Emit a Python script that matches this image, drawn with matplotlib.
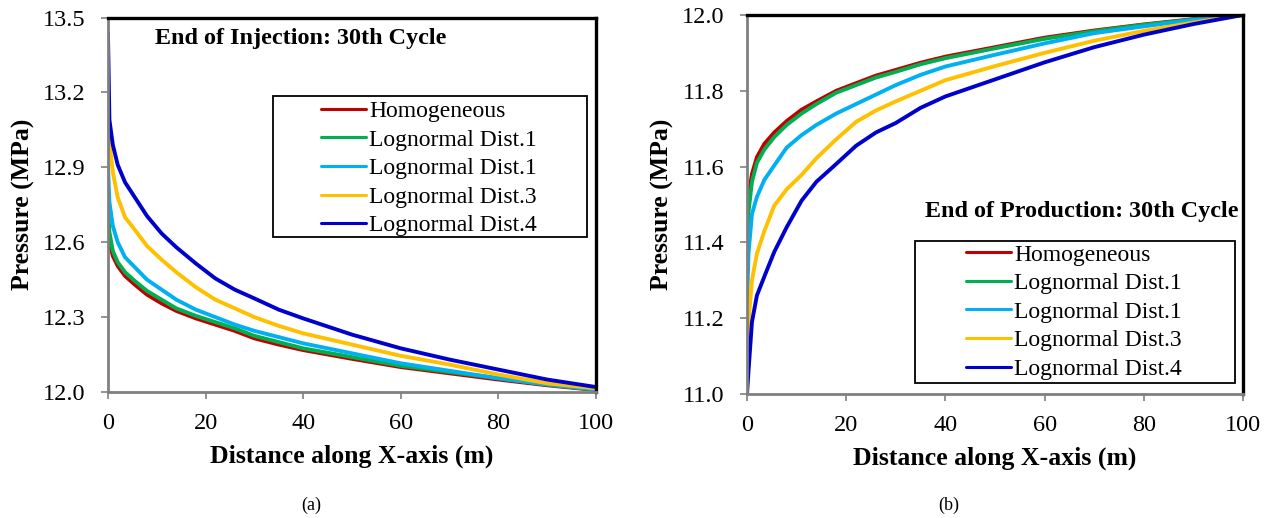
import matplotlib.pyplot as plt
from matplotlib.patches import Rectangle

plt.rcParams['font.family'] = ['Liberation Serif', 'DejaVu Serif']

# distance along x-axis (m), same sampling for both panels
x_dist = [0, 0.3, 1, 2, 3.5, 5.5, 8, 11, 14, 18, 22, 26, 30, 35, 40, 50, 60, 70, 80, 90, 100]

# (a) end of injection, pressure in MPa
inj_homog = [12.69, 12.60, 12.545, 12.505, 12.465, 12.43, 12.39, 12.355, 12.325, 12.295, 12.27,
             12.245, 12.215, 12.19, 12.168, 12.133, 12.10, 12.075, 12.05, 12.027, 12.008]
inj_dist1 = [12.745, 12.64, 12.565, 12.52, 12.48, 12.445, 12.405, 12.37, 12.335, 12.305, 12.28,
             12.255, 12.225, 12.20, 12.175, 12.14, 12.105, 12.08, 12.055, 12.03, 12.01]
inj_dist2 = [12.905, 12.76, 12.665, 12.60, 12.54, 12.50, 12.45, 12.41, 12.37, 12.33, 12.30,
             12.27, 12.245, 12.22, 12.195, 12.155, 12.115, 12.085, 12.055, 12.03, 12.01]
inj_dist3 = [13.12, 13.00, 12.88, 12.78, 12.70, 12.65, 12.585, 12.53, 12.48, 12.42, 12.37,
             12.335, 12.30, 12.265, 12.235, 12.19, 12.145, 12.11, 12.07, 12.035, 12.015]
inj_dist4 = [13.44, 13.09, 12.99, 12.91, 12.84, 12.78, 12.705, 12.635, 12.58, 12.515, 12.455,
             12.41, 12.375, 12.33, 12.295, 12.23, 12.175, 12.13, 12.09, 12.05, 12.02]

# (b) end of production, pressure in MPa
prod_homog = [11.46, 11.52, 11.58, 11.625, 11.66, 11.69, 11.72, 11.75, 11.772, 11.80, 11.82,
              11.84, 11.855, 11.874, 11.89, 11.915, 11.94, 11.959, 11.975, 11.989, 12.0]
prod_dist1 = [11.39, 11.48, 11.56, 11.61, 11.645, 11.678, 11.71, 11.74, 11.765, 11.795, 11.815,
              11.835, 11.85, 11.87, 11.886, 11.912, 11.937, 11.957, 11.974, 11.988, 12.0]
prod_dist2 = [11.23, 11.37, 11.475, 11.52, 11.565, 11.603, 11.65, 11.683, 11.71, 11.74, 11.765,
              11.79, 11.815, 11.842, 11.864, 11.895, 11.925, 11.952, 11.97, 11.987, 12.0]
prod_dist3 = [11.08, 11.19, 11.30, 11.37, 11.43, 11.497, 11.54, 11.578, 11.622, 11.672, 11.718,
              11.748, 11.772, 11.80, 11.828, 11.865, 11.90, 11.932, 11.958, 11.98, 12.0]
prod_dist4 = [11.0, 11.06, 11.19, 11.26, 11.31, 11.375, 11.44, 11.51, 11.56, 11.607, 11.655,
              11.69, 11.715, 11.755, 11.785, 11.83, 11.875, 11.915, 11.948, 11.976, 12.0]

labels = ['Homogeneous', 'Lognormal Dist.1', 'Lognormal Dist.1', 'Lognormal Dist.3', 'Lognormal Dist.4']
colors = ['#C00000', '#00B050', '#00B0F0', '#FFC000', '#0000CC']

inj_ticks = [12.0, 12.3, 12.6, 12.9, 13.2, 13.5]
prod_ticks = [11.0, 11.2, 11.4, 11.6, 11.8, 12.0]
x_ticks = [0, 20, 40, 60, 80, 100]


def draw_panel(ax, series, yticks, title, title_pos, title_ha, leg_rect, leg_center):
    for ys, lab, col in zip(series, labels, colors):
        ax.plot(x_dist, ys, color=col, lw=2.8, label=lab, solid_capstyle='round')
    ax.set_xlim(0, 100)
    ax.set_ylim(yticks[0], yticks[-1])
    ax.set_xticks(x_ticks)
    ax.set_yticks(yticks)
    ax.set_yticklabels(['%.1f' % t for t in yticks])
    ax.tick_params(direction='out', length=5, width=1.2, color='#808080',
                   labelsize=17.5)
    ax.tick_params(axis='y', pad=11)
    ax.tick_params(axis='x', pad=10)
    for side in ['top', 'right']:
        ax.spines[side].set_color('black')
        ax.spines[side].set_linewidth(2.4)
    for side in ['left', 'bottom']:
        ax.spines[side].set_color('#808080')
        ax.spines[side].set_linewidth(2.0)
    ax.set_xlabel('Distance along X-axis (m)', fontsize=18.5, fontweight='bold', labelpad=8)
    ax.set_ylabel('Pressure (MPa)', fontsize=18.5, fontweight='bold', labelpad=6)
    ax.text(title_pos[0], title_pos[1], title, transform=ax.transAxes, fontsize=17.4,
            fontweight='bold', ha=title_ha, va='center')
    # legend frame drawn separately so the entries sit centred in a wide box
    x0, y0, x1, y1 = leg_rect
    ax.add_patch(Rectangle((x0, y0), x1 - x0, y1 - y0, transform=ax.transAxes,
                           fill=False, ec='black', lw=1.3, zorder=5))
    leg = ax.legend(loc='center', bbox_to_anchor=leg_center, frameon=False, fontsize=17,
                    handlelength=1.9, handletextpad=0.15, labelspacing=0.3, borderpad=0)
    for h in leg.get_lines():
        h.set_linewidth(2.2)


fig = plt.figure(figsize=(12.73, 5.18), dpi=100)
ax1 = fig.add_axes([0.0848, 0.2432, 0.3833, 0.7230])
ax2 = fig.add_axes([0.5868, 0.2394, 0.3896, 0.7317])

draw_panel(ax1, [inj_homog, inj_dist1, inj_dist2, inj_dist3, inj_dist4], inj_ticks,
           'End of Injection: 30th Cycle', (0.0963, 0.944), 'left',
           (0.338, 0.414, 0.9816, 0.790), (0.658, 0.597))
draw_panel(ax2, [prod_homog, prod_dist1, prod_dist2, prod_dist3, prod_dist4], prod_ticks,
           'End of Production: 30th Cycle', (0.992, 0.4815), 'right',
           (0.3387, 0.028, 0.984, 0.4037), (0.659, 0.2164))

fig.text(0.2443, 0.025, '(a)', fontsize=13, ha='center', va='center')
fig.text(0.7455, 0.025, '(b)', fontsize=13, ha='center', va='center')

plt.savefig('out.png', dpi=100)
